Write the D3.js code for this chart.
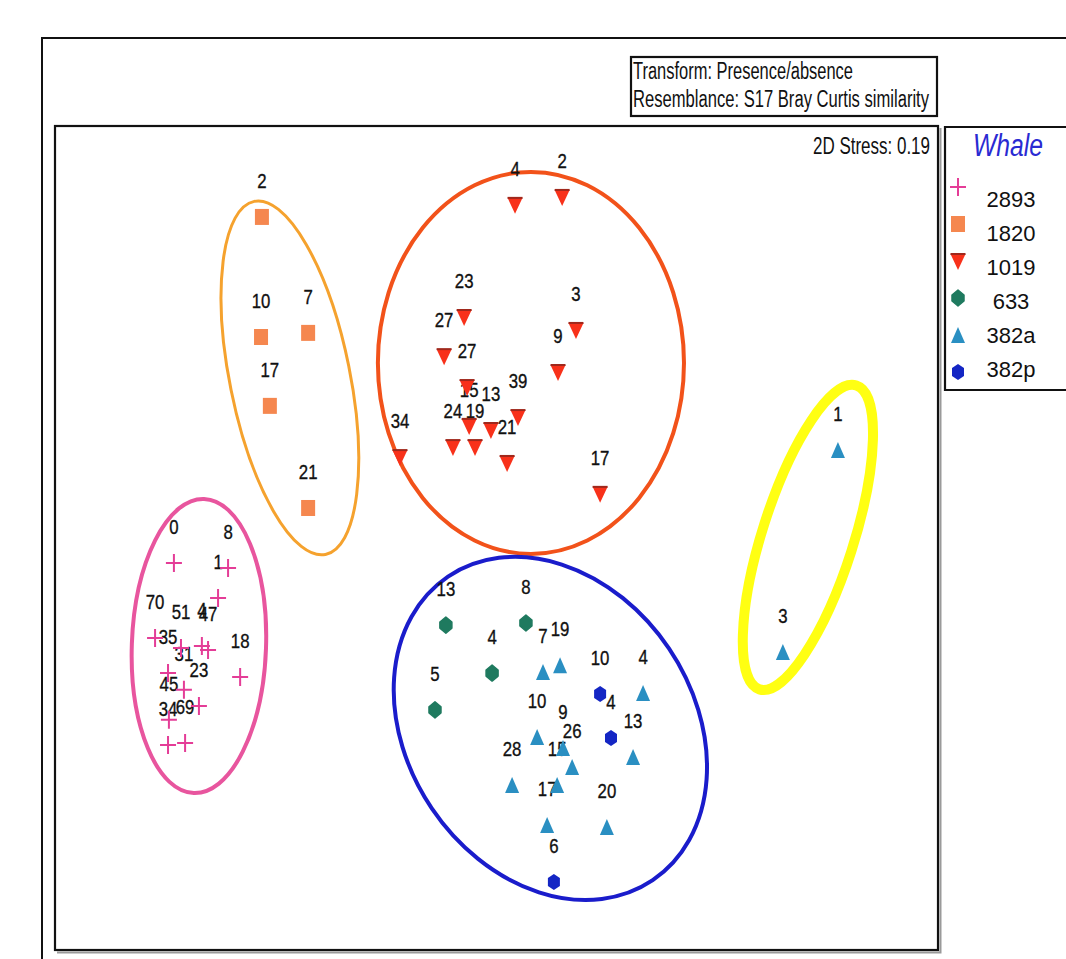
<!DOCTYPE html>
<html>
<head>
<meta charset="utf-8">
<script src="https://cdn.jsdelivr.net/npm/d3@7"></script>
<style>
  html, body { margin: 0; padding: 0; background: #fff; }
  svg { display: block; }
  text { font-family: "Liberation Sans", Arial, sans-serif; }
</style>
</head>
<body>
<svg id="chart" width="1066" height="959"></svg>
<script>
// ---- nMDS sample scores (MDS1, MDS2) per whale, with sample labels ----
const whales = ["2893", "1820", "1019", "633", "382a", "382p"];

const labels2893 = ["0", "8", "1", "70", "51", "4", "47", "35", "18", "31", "23", "45", "34", "69"];
const mds1_2893  = [-1.096, -0.912, -0.946, -1.160, -1.072, -1.001, -0.980, -1.116, -0.871, -1.062, -1.011, -1.113, -1.116, -1.058];
const mds2_2893  = [-0.085, -0.102, -0.204, -0.340, -0.374, -0.367, -0.381, -0.459, -0.472, -0.516, -0.571, -0.618, -0.703, -0.697];

const labels1820 = ["2", "10", "7", "17", "21"];
const mds1_1820  = [-0.797, -0.800, -0.640, -0.770, -0.640];
const mds2_1820  = [1.091, 0.683, 0.697, 0.449, 0.102];

const labels1019 = ["4", "2", "23", "27", "3", "9", "27", "39", "15", "13", "24", "19", "21", "34", "17"];
const mds1_1019  = [0.063, 0.223, -0.110, -0.178, 0.270, 0.209, -0.100, 0.073, -0.093, -0.019, -0.148, -0.073, 0.036, -0.328, 0.352];
const mds2_1019  = [1.132, 1.159, 0.751, 0.618, 0.707, 0.564, 0.513, 0.411, 0.381, 0.367, 0.309, 0.309, 0.255, 0.275, 0.150];

const labels633 = ["13", "8", "4", "5"];
const mds1_633  = [-0.172, 0.100, -0.015, -0.209];
const mds2_633  = [-0.296, -0.289, -0.459, -0.584];

const labels382a = ["7", "19", "4", "10", "9", "26", "15", "28", "13", "17", "20", "1", "3"];
const mds1_382a  = [0.158, 0.216, 0.498, 0.138, 0.226, 0.257, 0.206, 0.053, 0.464, 0.172, 0.375, 1.160, 0.973];
const mds2_382a  = [-0.455, -0.432, -0.527, -0.676, -0.714, -0.778, -0.839, -0.839, -0.744, -0.975, -0.982, 0.299, -0.387];

const labels382p = ["10", "4", "6"];
const mds1_382p  = [0.352, 0.389, 0.195];
const mds2_382p  = [-0.530, -0.680, -1.169];

// Cluster outlines drawn round the groups (centre, semi-axes in MDS units, tilt in degrees)
const clusterNames = ["2893", "1820", "1019", "633+382", "382a"];
const clusterX     = [-1.011, -0.702, 0.117, 0.183, 1.058];
const clusterY     = [-0.367, 0.544, 0.595, -0.647, 0.002];
const clusterRx    = [0.228, 0.204, 0.520, 0.622, 0.155];
const clusterRy    = [0.500, 0.612, 0.649, 0.486, 0.542];
const clusterTilt  = [2, -11.4, 0, 56, 17.7];

const stressText = "2D Stress: 0.19";
const infoLines = ["Transform: Presence/absence", "Resemblance: S17 Bray Curtis similarity"];
const legendTitle = "Whale";

// ---- styling ----
const markerStyle = {
  "2893": { shape: "cross",   color: "#e43d97" },
  "1820": { shape: "square",  color: "#f5874f" },
  "1019": { shape: "triDown", color: "#f8311a" },
  "633":  { shape: "diamond", color: "#1f7a5f" },
  "382a": { shape: "triUp",   color: "#2a8fc2" },
  "382p": { shape: "hexagon", color: "#1426c4" }
};
const clusterStyle = {
  "2893":    { stroke: "#e8559e", width: 4 },
  "1820":    { stroke: "#f5a22e", width: 3 },
  "1019":    { stroke: "#f2521a", width: 4 },
  "633+382": { stroke: "#1a1ccb", width: 4 },
  "382a":    { stroke: "#ffff12", width: 10 }
};

const series = {
  "2893": [labels2893, mds1_2893, mds2_2893],
  "1820": [labels1820, mds1_1820, mds2_1820],
  "1019": [labels1019, mds1_1019, mds2_1019],
  "633":  [labels633, mds1_633, mds2_633],
  "382a": [labels382a, mds1_382a, mds2_382a],
  "382p": [labels382p, mds1_382p, mds2_382p]
};

const svg = d3.select("#chart");
const box = { left: 55, right: 938, top: 126, bottom: 950 };

const x = d3.scaleLinear().domain([-1.5, 1.5]).range([box.left, box.right]);
const y = d3.scaleLinear().domain([-1.4, 1.4]).range([box.bottom, box.top]);
const ux = x(1) - x(0), uy = y(0) - y(1);

// ---- frames ----
svg.append("path").attr("d", "M42,959V38H1066")
  .attr("fill", "none").attr("stroke", "#111").attr("stroke-width", 2);

svg.append("path")
  .attr("d", `M${box.left + 2},${box.bottom + 2.5}H${box.right + 2.5}V${box.top + 2}`)
  .attr("fill", "none").attr("stroke", "#9a9a9a").attr("stroke-width", 2);
svg.append("rect")
  .attr("x", box.left).attr("y", box.top)
  .attr("width", box.right - box.left).attr("height", box.bottom - box.top)
  .attr("fill", "none").attr("stroke", "#111").attr("stroke-width", 2.2);

// info box
svg.append("rect").attr("x", 631).attr("y", 57).attr("width", 306).attr("height", 59)
  .attr("fill", "#fff").attr("stroke", "#111").attr("stroke-width", 2.2);
svg.append("text").attr("x", 633).attr("y", 79).attr("font-size", 23)
  .attr("textLength", 220).attr("lengthAdjust", "spacingAndGlyphs").attr("fill", "#111")
  .text(infoLines[0]);
svg.append("text").attr("x", 633).attr("y", 107).attr("font-size", 23)
  .attr("textLength", 296).attr("lengthAdjust", "spacingAndGlyphs").attr("fill", "#111")
  .text(infoLines[1]);

// stress
svg.append("text").attr("x", 813).attr("y", 154).attr("font-size", 23)
  .attr("textLength", 117).attr("lengthAdjust", "spacingAndGlyphs").attr("fill", "#111")
  .text(stressText);

// ---- cluster outlines ----
svg.append("g").selectAll("ellipse")
  .data(clusterNames.map((n, i) => ({ n, cx: clusterX[i], cy: clusterY[i], rx: clusterRx[i], ry: clusterRy[i], t: clusterTilt[i] })))
  .join("ellipse")
  .attr("transform", d => `translate(${x(d.cx)},${y(d.cy)}) rotate(${d.t})`)
  .attr("rx", d => d.rx * ux).attr("ry", d => d.ry * uy)
  .attr("fill", "none")
  .attr("stroke", d => clusterStyle[d.n].stroke)
  .attr("stroke-width", d => clusterStyle[d.n].width);

// ---- marker shapes ----
function drawMarker(sel, shape, color) {
  if (shape === "cross") {
    sel.append("path").attr("d", "M-8,0H8M0,-9V9")
      .attr("stroke", color).attr("stroke-width", 2).attr("fill", "none");
  } else if (shape === "square") {
    sel.append("rect").attr("x", -7).attr("y", -8).attr("width", 14).attr("height", 16).attr("fill", color);
  } else if (shape === "triDown") {
    sel.append("path").attr("d", "M-7.5,-7L7.5,-7L0,9Z").attr("fill", color);
    sel.append("path").attr("d", "M-7.5,-7H7.5").attr("stroke", "#a0281c").attr("stroke-width", 2);
  } else if (shape === "diamond") {
    sel.append("path").attr("d", "M0,-8L6,-3L6,3L0,8L-6,3L-6,-3Z")
      .attr("fill", color).attr("stroke", color).attr("stroke-width", 1.5).attr("stroke-linejoin", "round");
  } else if (shape === "triUp") {
    sel.append("path").attr("d", "M0,-8L7,8L-7,8Z").attr("fill", color);
  } else if (shape === "hexagon") {
    sel.append("path").attr("d", "M0,-8L6,-4L6,4L0,8L-6,4L-6,-4Z").attr("fill", color);
  }
}

const points = [];
whales.forEach(w => {
  const [labs, xs, ys] = series[w];
  labs.forEach((l, i) => points.push({ w, label: l, m1: xs[i], m2: ys[i] }));
});

// sample labels (above each point)
svg.append("g").selectAll("text")
  .data(points).join("text")
  .attr("transform", d => `translate(${x(d.m1)},${y(d.m2) - 29}) scale(0.8,1)`)
  .attr("text-anchor", "middle").attr("font-size", 21).attr("fill", "#111")
  .attr("stroke", "#111").attr("stroke-width", 0.35)
  .text(d => d.label);

// points
svg.append("g").selectAll("g")
  .data(points).join("g")
  .attr("transform", d => `translate(${x(d.m1)},${y(d.m2)})`)
  .each(function (d) { drawMarker(d3.select(this), markerStyle[d.w].shape, markerStyle[d.w].color); });

// ---- legend ----
svg.append("path").attr("d", "M1070,127H945V390H1070")
  .attr("fill", "#fff").attr("stroke", "#111").attr("stroke-width", 2.2);
svg.append("text").attr("x", 973).attr("y", 156).attr("font-size", 31)
  .attr("font-style", "italic").attr("fill", "#2a2ad2")
  .attr("textLength", 70).attr("lengthAdjust", "spacingAndGlyphs")
  .text(legendTitle);

const leg = svg.append("g").selectAll("g").data(whales).join("g");
leg.each(function (w, i) {
  const g = d3.select(this);
  const m = g.append("g").attr("transform", `translate(958,${187 + i * 37})`);
  drawMarker(m, markerStyle[w].shape, markerStyle[w].color);
  g.append("text").attr("x", 1011).attr("y", 207 + i * 34)
    .attr("text-anchor", "middle").attr("font-size", 22).attr("fill", "#111")
    .text(w);
});
</script>
</body>
</html>
